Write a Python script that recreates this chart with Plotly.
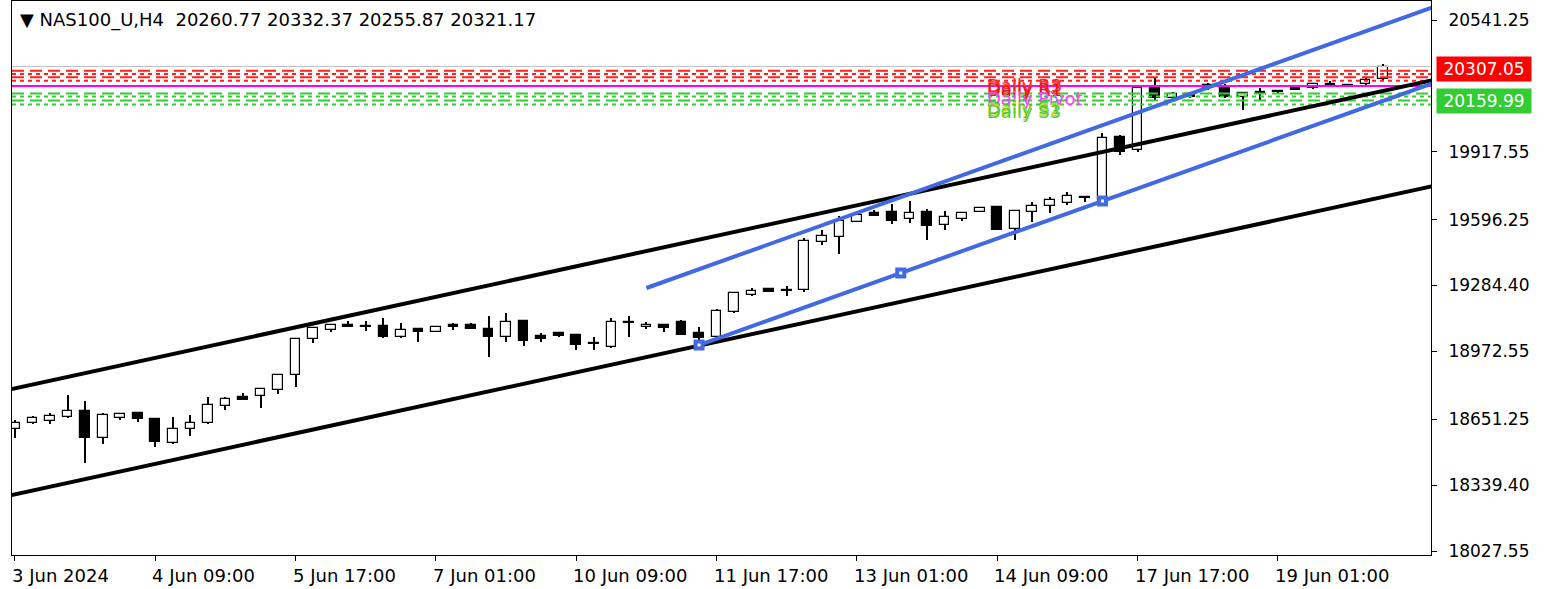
import plotly.graph_objects as go

# ---------------- data ----------------
opens = [18605.1, 18633.5, 18643.0, 18661.9, 18690.3, 18562.5, 18657.2, 18680.9, 18652.5, 18538.8,
         18605.1, 18633.5, 18714.0, 18756.6, 18761.3, 18789.7, 18860.7, 19031.2, 19073.8, 19097.4,
         19092.7, 19092.7, 19040.6, 19078.5, 19064.3, 19097.4, 19097.4, 19078.5, 19040.6, 19116.4,
         19045.4, 19059.6, 19050.1, 19012.2, 18993.3, 19106.9, 19088.0, 19097.4, 19111.7, 19059.6,
         19040.6, 19159.0, 19239.5, 19267.9, 19258.4, 19263.1, 19490.4, 19514.0, 19585.1, 19627.7,
         19632.4, 19599.3, 19632.4, 19570.8, 19599.3, 19632.4, 19656.1, 19551.9, 19632.4, 19660.8,
         19675.0, 19703.4, 19689.2, 19987.4, 19925.9, 20219.4, 20172.1, 20191.0, 20219.4, 20224.1,
         20176.8, 20195.7, 20205.2, 20219.4, 20219.4, 20238.3, 20233.6, 20238.3, 20260.77]
highs = [18647.7, 18666.7, 18680.9, 18766.1, 18737.7, 18680.9, 18680.9, 18685.6, 18657.2, 18661.9,
         18671.4, 18756.6, 18756.6, 18775.5, 18799.2, 18865.5, 19035.9, 19088.0, 19102.2, 19116.4,
         19116.4, 19130.6, 19106.9, 19080.0, 19088.0, 19106.9, 19106.9, 19140.1, 19154.3, 19118.0,
         19059.6, 19064.3, 19052.0, 19040.6, 19130.6, 19140.1, 19111.7, 19099.0, 19121.1, 19088.0,
         19173.2, 19253.7, 19272.6, 19270.0, 19282.1, 19509.3, 19547.2, 19613.5, 19632.4, 19641.9,
         19670.3, 19684.5, 19646.6, 19637.1, 19627.7, 19651.3, 19660.8, 19637.1, 19679.7, 19703.4,
         19727.1, 19705.0, 20006.4, 19996.9, 20233.6, 20266.7, 20200.5, 20200.5, 20243.1, 20238.3,
         20200.5, 20219.4, 20209.9, 20224.1, 20243.1, 20252.5, 20238.3, 20266.7, 20332.37]
lows = [18562.5, 18628.8, 18628.8, 18657.2, 18444.2, 18534.1, 18647.7, 18638.3, 18519.9, 18534.1,
        18572.0, 18628.8, 18695.1, 18742.4, 18704.5, 18770.8, 18803.9, 19012.2, 19064.3, 19086.0,
        19069.0, 19038.0, 19038.0, 19017.0, 19062.0, 19073.8, 19078.5, 18946.0, 19017.0, 18998.0,
        19017.0, 19043.0, 18979.1, 18979.1, 18988.6, 19040.6, 19078.5, 19064.3, 19050.1, 19002.7,
        19026.4, 19154.3, 19237.0, 19252.0, 19234.7, 19253.7, 19476.2, 19433.6, 19583.0, 19613.5,
        19575.6, 19580.3, 19499.8, 19547.2, 19589.8, 19630.5, 19547.2, 19499.8, 19585.1, 19627.7,
        19665.5, 19679.7, 19684.5, 19902.2, 19916.4, 20157.9, 20167.3, 20172.1, 20209.9, 20172.1,
        20115.3, 20162.6, 20195.7, 20209.9, 20214.7, 20228.9, 20224.1, 20233.6, 20255.87]
closes = [18633.5, 18657.2, 18666.7, 18690.3, 18562.5, 18671.4, 18676.1, 18652.5, 18543.6, 18605.1,
          18633.5, 18718.7, 18747.1, 18744.0, 18794.5, 18860.7, 19031.2, 19083.2, 19097.4, 19088.0,
          19088.0, 19040.6, 19073.8, 19064.3, 19086.0, 19088.0, 19080.0, 19040.6, 19111.7, 19021.7,
          19031.2, 19045.4, 19002.8, 19007.5, 19111.7, 19111.7, 19097.4, 19083.2, 19052.0, 19035.9,
          19163.7, 19248.9, 19258.4, 19253.7, 19263.1, 19495.1, 19518.8, 19589.8, 19618.2, 19615.0,
          19589.8, 19627.7, 19566.1, 19608.7, 19626.0, 19650.0, 19549.0, 19635.0, 19660.8, 19689.2,
          19708.1, 19698.7, 19982.7, 19916.4, 20219.4, 20172.1, 20191.0, 20176.8, 20233.6, 20176.8,
          20198.0, 20200.5, 20200.5, 20211.5, 20238.3, 20233.6, 20228.9, 20257.3, 20321.17]

date_tick_bars = [0, 8, 16, 24, 32, 40, 48, 56, 64, 72]
date_tick_labels = ["3 Jun 2024", "4 Jun 09:00", "5 Jun 17:00", "7 Jun 01:00", "10 Jun 09:00",
                    "11 Jun 17:00", "13 Jun 01:00", "14 Jun 09:00", "17 Jun 17:00", "19 Jun 01:00"]
price_ticks = [20541.25, 19917.55, 19596.25, 19284.40, 18972.55, 18651.25, 18339.40, 18027.55]
price_tick_labels = ["20541.25", "19917.55", "19596.25", "19284.40", "18972.55", "18651.25", "18339.40", "18027.55"]

# channels (bar index, price)
black_upper_x = [-1, 82]
black_upper_y = [18779.55, 20277.7]
black_lower_x = [-1, 82]
black_lower_y = [18277.65, 19775.8]
blue_lower_x = [39, 62, 82]
blue_lower_y = [19002.7, 19684.5, 20277.2]
blue_upper_x = [36, 82]
blue_upper_y = [19272.6, 20636.0]
blue_marker_x = [39, 50.5, 62]
blue_marker_y = [19002.7, 19343.6, 19684.5]

red_levels = [20301.3, 20285.7, 20270.0, 20254.0]
magenta_level = 20228.8
green_levels = [20193.7, 20179.5, 20160.6, 20141.7]
bid_price = 20321.17
red_label_price = 20307.05
green_label_price = 20159.99

pivot_texts = ["Daily R3", "Daily R2", "Daily R1", "Daily Pivot", "Daily S1", "Daily S2", "Daily S3"]
pivot_text_prices = [20232, 20222, 20212, 20168, 20126, 20116, 20106]
pivot_text_colors = ["#ff2020", "#ff3030", "#e81818", "#ff40ff", "#33cc33", "#d4d430", "#55cc33"]

title_text = "NAS100_U,H4  20260.77 20332.37 20255.87 20321.17"

# ---------------- figure ----------------
n = len(opens)
idx = list(range(n))
FONT = "DejaVu Sans"

fig = go.Figure()

# wicks
fig.add_trace(go.Bar(x=idx, y=[h - l for h, l in zip(highs, lows)], base=lows, width=0.06,
                     marker=dict(color="black", line=dict(width=0)), hoverinfo="skip", showlegend=False))
# bodies
body_base = [min(o, c) for o, c in zip(opens, closes)]
body_h = [max(abs(c - o), 0.8) for o, c in zip(opens, closes)]
body_fill = ["white" if c >= o else "black" for o, c in zip(opens, closes)]
fig.add_trace(go.Bar(x=idx, y=body_h, base=body_base, width=0.55,
                     marker=dict(color=body_fill, line=dict(color="black", width=1.2)),
                     hoverinfo="skip", showlegend=False))

xr = [-0.17, 80.73]

# level lines
fig.add_trace(go.Scatter(x=xr, y=[bid_price] * 2, mode="lines",
                         line=dict(color="#c0c0c0", width=1), showlegend=False, hoverinfo="skip"))
level_dash = ["12px,6px", "4px,4px", "12px,6px", "4px,4px"]
for lv, ds in zip(red_levels, level_dash):
    fig.add_trace(go.Scatter(x=xr, y=[lv] * 2, mode="lines",
                             line=dict(color="#ff2020", width=2, dash=ds), showlegend=False, hoverinfo="skip"))
fig.add_trace(go.Scatter(x=xr, y=[magenta_level] * 2, mode="lines",
                         line=dict(color="#ff00ff", width=2), showlegend=False, hoverinfo="skip"))
for lv, ds in zip(green_levels, level_dash):
    fig.add_trace(go.Scatter(x=xr, y=[lv] * 2, mode="lines",
                             line=dict(color="#33cc33", width=2, dash=ds), showlegend=False, hoverinfo="skip"))

# channels
for xs, ys, col in [(black_upper_x, black_upper_y, "black"), (black_lower_x, black_lower_y, "black"),
                    (blue_lower_x, blue_lower_y, "#4169e1"), (blue_upper_x, blue_upper_y, "#4169e1")]:
    fig.add_trace(go.Scatter(x=xs, y=ys, mode="lines", line=dict(color=col, width=4),
                             showlegend=False, hoverinfo="skip"))
fig.add_trace(go.Scatter(x=blue_marker_x, y=blue_marker_y, mode="markers",
                         marker=dict(symbol="square", size=11, color="#4169e1"),
                         showlegend=False, hoverinfo="skip"))
fig.add_trace(go.Scatter(x=blue_marker_x, y=blue_marker_y, mode="markers",
                         marker=dict(symbol="square", size=3, color="white"),
                         showlegend=False, hoverinfo="skip"))

# pivot texts (overlapping, as in the terminal)
for txt, col, py in zip(pivot_texts, pivot_text_colors, pivot_text_prices):
    fig.add_annotation(x=55.3, y=py, xref="x", yref="y", text=txt, showarrow=False, xanchor="left",
                       font=dict(family=FONT, size=18, color=col))

# title
fig.add_annotation(x=0.0, y=1, xref="paper", yref="paper", xanchor="left", yanchor="top",
                   text="▼ " + title_text.replace("  ", "&nbsp;&nbsp;"), showarrow=False,
                   xshift=6, yshift=-6, font=dict(family=FONT, size=18, color="black"))

# date labels
for b, lab in zip(date_tick_bars, date_tick_labels):
    fig.add_annotation(x=b, y=0, xref="x", yref="paper", yanchor="top", xanchor="left",
                       text=lab, showarrow=False, yshift=-8, xshift=-5,
                       font=dict(family=FONT, size=18, color="black"))

# price labels on axis
for p, bg in [(red_label_price, "#ff0000"), (green_label_price, "#33cc33")]:
    fig.add_annotation(x=1, y=p, xref="paper", yref="y", xanchor="left", text=f"{p:.2f}",
                       showarrow=False, bgcolor=bg, xshift=5, borderpad=2, width=90,
                       font=dict(family=FONT, size=17, color="white"))

fig.update_layout(
    width=1544, height=589, margin=dict(l=12, r=113, t=1, b=34),
    paper_bgcolor="white", plot_bgcolor="white", barmode="overlay", bargap=0,
    showlegend=False,
)
fig.update_xaxes(range=xr, showgrid=False, zeroline=False, showline=True, linecolor="black",
                 linewidth=1, mirror=True, ticks="outside", ticklen=5, tickcolor="black",
                 tickvals=date_tick_bars, ticktext=[""] * len(date_tick_bars))
fig.update_yaxes(range=[18008.6, 20631.3], side="right", showgrid=False, zeroline=False,
                 showline=True, linecolor="black", linewidth=1, mirror=True, ticks="outside",
                 ticklen=5, tickcolor="black", tickvals=price_ticks, ticktext=price_tick_labels,
                 ticklabelstandoff=8,
                 tickfont=dict(family=FONT, size=17, color="black"))

fig.write_html("out.html", config={"displayModeBar": False},
               post_script="document.body.style.margin='0';")
